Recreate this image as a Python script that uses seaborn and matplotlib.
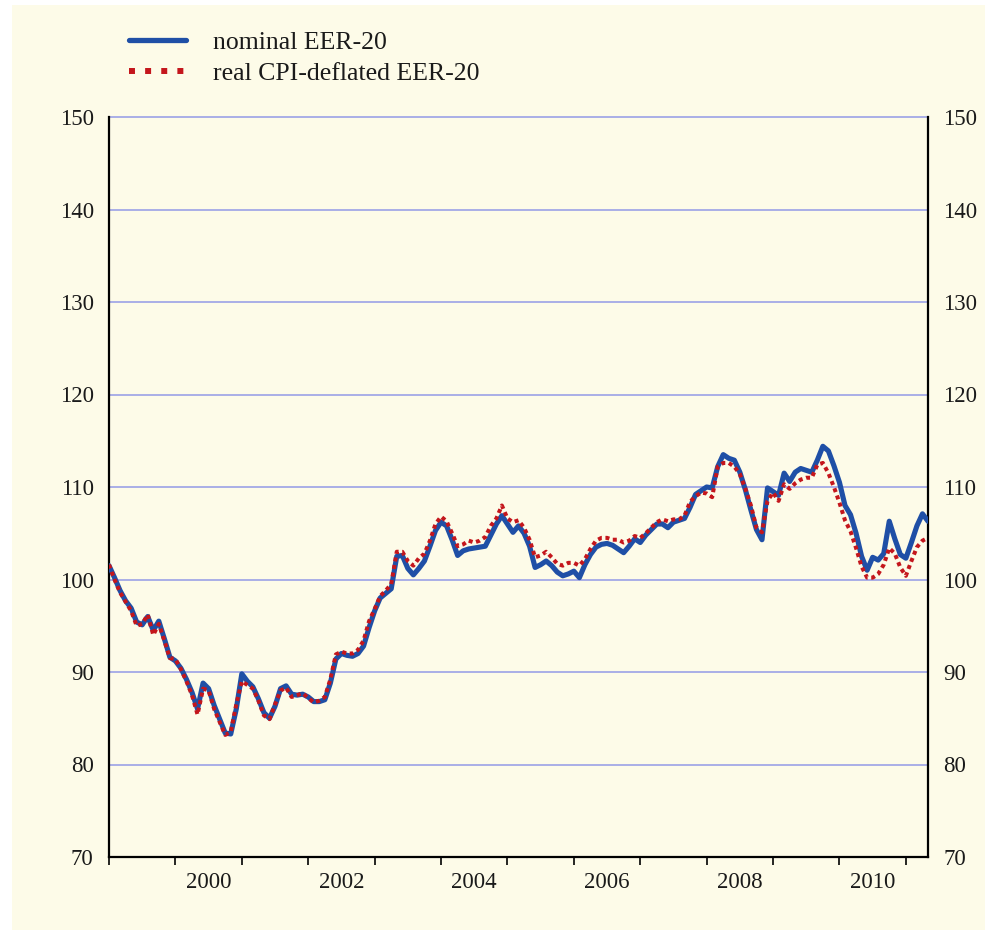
import numpy as np
import pandas as pd
import matplotlib
matplotlib.use("Agg")
import matplotlib.pyplot as plt
from matplotlib.patches import Rectangle
from matplotlib.lines import Line2D
import seaborn as sns

# ---- data (monthly, Jan 1999 - May 2011) ----
start_month = "1999-01"
nominal = [
    101.5, 100.2, 98.8, 97.7, 96.9, 95.4, 95.1, 96.0, 94.5, 95.5, 93.6, 91.6,
    91.2, 90.4, 89.2, 87.8, 86.0, 88.8, 88.2, 86.4, 84.9, 83.4, 83.3, 86.0,
    89.8, 89.0, 88.4, 87.1, 85.6, 85.0, 86.3, 88.2, 88.5, 87.6, 87.5, 87.6,
    87.3, 86.8, 86.8, 87.0, 88.8, 91.4, 92.0, 91.8, 91.7, 92.0, 92.8, 94.8,
    96.6, 98.0, 98.5, 99.0, 102.5, 102.6, 101.2, 100.5, 101.2, 102.0, 103.6, 105.3,
    106.2, 105.8, 104.3, 102.6, 103.1, 103.3, 103.4, 103.5, 103.6, 104.8, 106.0, 106.9,
    106.0, 105.1, 105.8, 105.0, 103.6, 101.3, 101.6, 102.0, 101.5, 100.8, 100.4, 100.6,
    100.9, 100.2, 101.6, 102.7, 103.5, 103.8, 103.9, 103.7, 103.3, 102.9, 103.6, 104.4,
    104.0, 104.8, 105.4, 106.0, 106.0, 105.6, 106.2, 106.4, 106.6, 107.8, 109.2, 109.6,
    110.0, 109.9, 112.2, 113.5, 113.1, 112.9, 111.6, 109.7, 107.5, 105.4, 104.3, 109.9,
    109.5, 109.1, 111.5, 110.6, 111.6, 112.0, 111.8, 111.6, 112.9, 114.4, 113.9, 112.3,
    110.5, 108.0, 107.0, 105.0, 102.5, 101.0, 102.4, 102.1, 102.8, 106.3, 104.4, 102.7,
    102.3, 104.0, 105.8, 107.1, 106.3,
]
real = [
    101.6, 100.0, 98.6, 97.6, 96.6, 95.0, 95.2, 96.2, 94.0, 95.2, 93.4, 91.5,
    91.4, 90.3, 89.0, 87.5, 85.4, 88.2, 88.0, 86.0, 84.6, 83.2, 83.5, 86.5,
    89.0, 88.6, 88.2, 86.9, 85.3, 84.9, 86.5, 88.0, 88.3, 87.3, 87.5, 87.7,
    87.2, 86.7, 86.9, 87.3, 89.2, 91.9, 92.2, 92.0, 92.0, 92.4, 93.4, 95.5,
    96.8, 98.2, 98.8, 99.5, 103.0, 103.0, 102.0, 101.5, 102.3, 102.8, 104.2, 106.0,
    106.8, 106.3, 105.0, 103.6, 103.8, 104.2, 104.0, 104.2, 104.6, 105.8, 106.6, 108.0,
    106.6, 106.2, 106.4, 105.6, 104.3, 102.4, 102.6, 103.0, 102.4, 101.7, 101.5, 101.8,
    101.8, 101.5, 102.2, 103.3, 104.2, 104.5, 104.5, 104.3, 104.3, 104.0, 104.2, 104.7,
    104.5, 105.0, 105.6, 106.2, 106.5, 106.3, 106.5, 106.5, 106.9, 108.4, 109.0, 109.4,
    109.3, 108.9, 112.2, 112.6, 112.6, 112.2, 111.4, 109.8, 108.0, 105.6, 105.1, 108.5,
    109.4, 108.5, 110.3, 109.8, 110.4, 110.8, 111.0, 111.0, 112.4, 112.6, 111.5, 110.0,
    108.3, 106.4, 105.2, 103.4, 101.4, 100.2, 100.2, 100.6, 101.6, 103.4, 102.8, 101.3,
    100.4, 102.0, 103.5, 104.2, 104.5,
]
series_names = ["nominal EER-20", "real CPI-deflated EER-20"]
y_ticks = [70, 80, 90, 100, 110, 120, 130, 140, 150]
year_ticks = list(range(1999, 2012))
year_labels = ["2000", "2002", "2004", "2006", "2008", "2010"]

dates = pd.date_range(start_month, periods=len(nominal), freq="MS")
xdec = dates.year + (dates.month - 1) / 12.0
df = pd.DataFrame({
    "x": np.concatenate([xdec, xdec]),
    "value": nominal + real,
    "series": [series_names[0]] * len(nominal) + [series_names[1]] * len(real),
})

# ---- style ----
cream = "#FDFBE8"
blue = "#1F4FA6"
red = "#C4161C"
grid_c = "#A9AEE6"
txt_c = "#1a1a1a"
sns.set_theme(style="white")
plt.rcParams["font.family"] = ["Liberation Serif", "DejaVu Serif"]

fig = plt.figure(figsize=(9.87, 9.35), dpi=100)
fig.patch.set_facecolor("white")
bg = Rectangle((12 / 987, 1 - 930 / 935), (985 - 12) / 987, (930 - 5) / 935,
               transform=fig.transFigure, facecolor=cream, edgecolor="none", zorder=-10)
fig.patches.append(bg)
ax = fig.add_axes([109 / 987, 1 - 857 / 935, (928 - 109) / 987, (857 - 117) / 935])
ax.set_zorder(1)
ax.set_facecolor(cream)

sns.lineplot(data=df, x="x", y="value", hue="series", style="series",
             palette={series_names[0]: blue, series_names[1]: red},
             dashes={series_names[0]: "", series_names[1]: (1, 0.9)},
             ax=ax, legend=False)
lines = ax.get_lines()
lines[0].set_linewidth(3.7)
lines[0].set_zorder(3)
lines[1].set_linewidth(2.9)
lines[1].set_zorder(4)

ax.set_xlim(xdec[0], xdec[-1])
ax.set_ylim(70, 150)
ax.set_yticks(y_ticks)
ax.set_yticklabels([str(v) for v in y_ticks])
ax.yaxis.grid(True, color=grid_c, linewidth=1.4)
for gl in ax.get_ygridlines():
    gl.set_clip_on(False)
ax.set_axisbelow(True)
ax.tick_params(axis="y", left=False, right=False, length=0, labelleft=True, labelright=True,
               labelsize=16.5, pad=11, labelcolor=txt_c)

ax.set_xticks(year_ticks)
ax.set_xticklabels([])
ax.set_xticks([int(y) + 0.5 for y in year_labels], minor=True)
ax.set_xticklabels(year_labels, minor=True)
ax.tick_params(axis="x", which="major", direction="out", length=6, width=1.2, color="black", bottom=True)
ax.tick_params(axis="x", which="minor", length=0, labelsize=16.5, pad=11, labelcolor=txt_c)

for s in ["left", "right", "bottom"]:
    ax.spines[s].set_visible(True)
    ax.spines[s].set_color("black")
    ax.spines[s].set_linewidth(1.6)
ax.spines["top"].set_visible(False)
ax.set_xlabel("")
ax.set_ylabel("")

handles = [Line2D([], [], color=blue, lw=3.8),
           Line2D([], [], color=red, lw=4.3, linestyle=(0, (1, 1.7)))]
fig.legend(handles, series_names, loc="upper left", bbox_to_anchor=(106 / 987, 1 - 8 / 935),
           frameon=False, fontsize=18.5, handlelength=2.2, handletextpad=1.05, labelspacing=0.3,
           labelcolor=txt_c)

fig.savefig("out.png", dpi=100, facecolor=fig.get_facecolor())
